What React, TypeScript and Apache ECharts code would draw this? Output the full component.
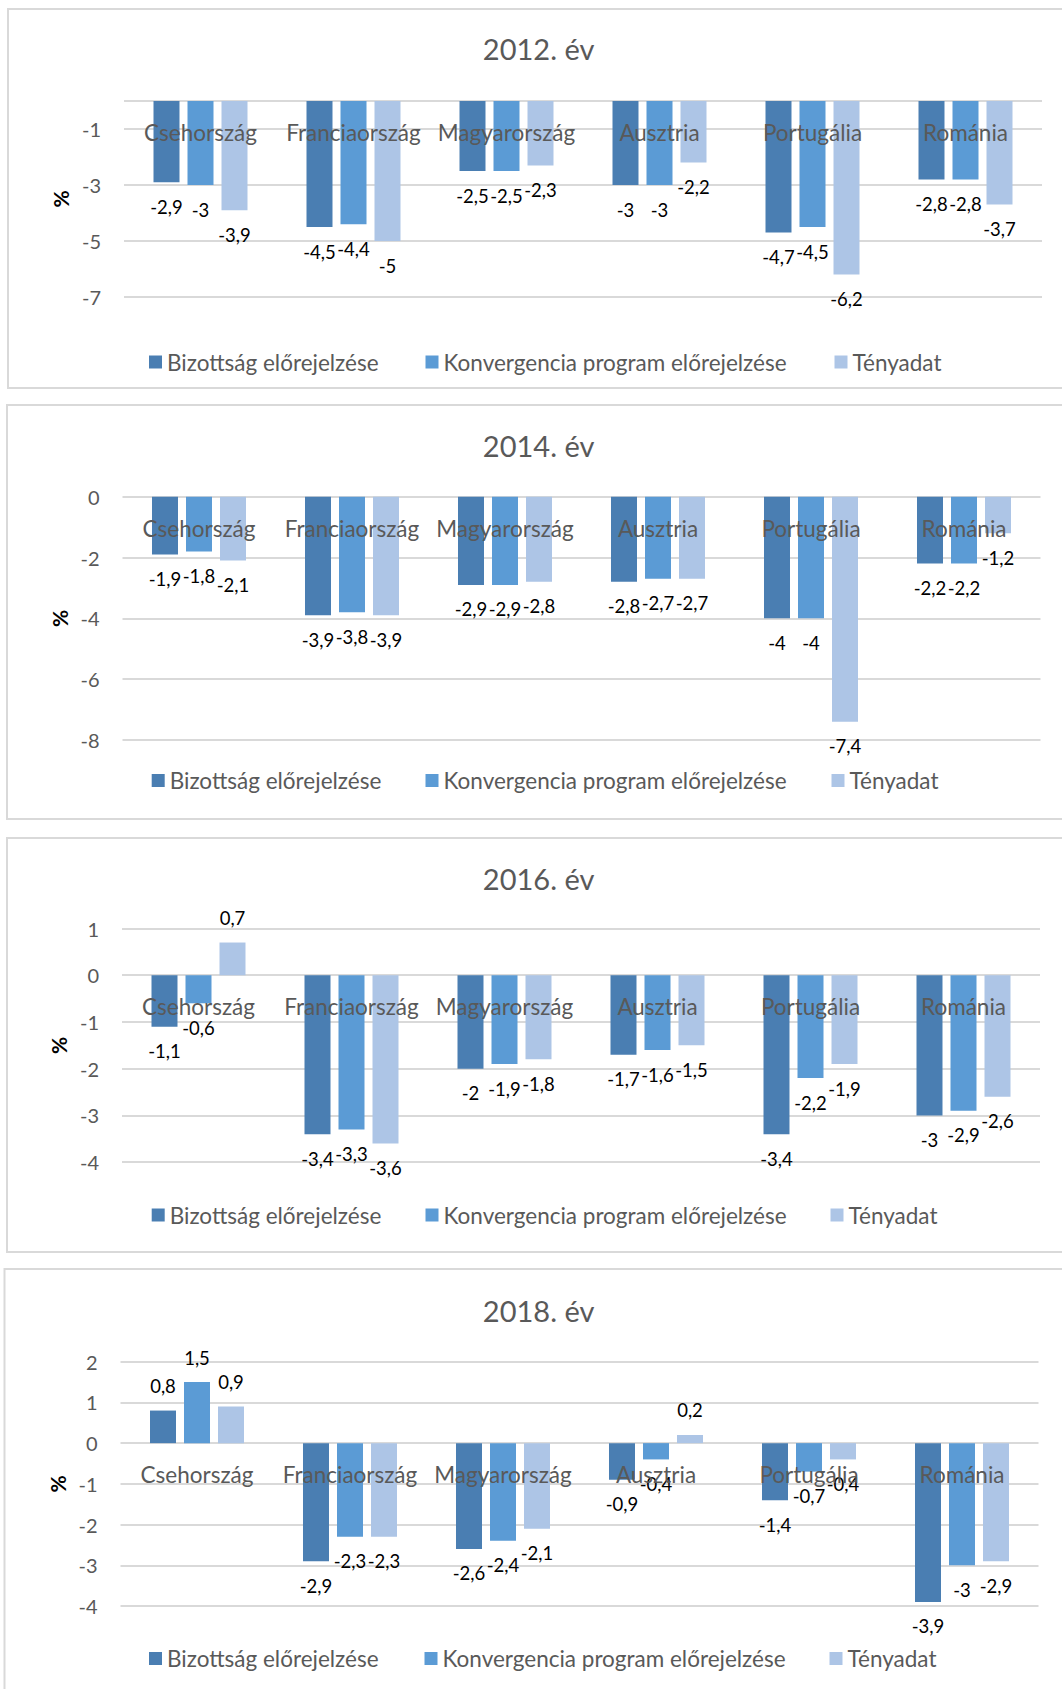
import React, { useEffect, useRef } from "react";
import * as echarts from "echarts";

const categories = ["Csehország", "Franciaország", "Magyarország", "Ausztria", "Portugália", "Románia"];
const seriesNames = ["Bizottság előrejelzése", "Konvergencia program előrejelzése", "Tényadat"];
const seriesColors = ["#4A7EB2", "#5B9BD5", "#ADC5E6"];
const panelTitles = ["2012. év", "2014. év", "2016. év", "2018. év"];

// 2012
const bizottsag2012 = [-2.9, -4.5, -2.5, -3, -4.7, -2.8];
const konvergencia2012 = [-3, -4.4, -2.5, -3, -4.5, -2.8];
const tenyadat2012 = [-3.9, -5, -2.3, -2.2, -6.2, -3.7];
// 2014
const bizottsag2014 = [-1.9, -3.9, -2.9, -2.8, -4, -2.2];
const konvergencia2014 = [-1.8, -3.8, -2.9, -2.7, -4, -2.2];
const tenyadat2014 = [-2.1, -3.9, -2.8, -2.7, -7.4, -1.2];
// 2016
const bizottsag2016 = [-1.1, -3.4, -2, -1.7, -3.4, -3];
const konvergencia2016 = [-0.6, -3.3, -1.9, -1.6, -2.2, -2.9];
const tenyadat2016 = [0.7, -3.6, -1.8, -1.5, -1.9, -2.6];
// 2018
const bizottsag2018 = [0.8, -2.9, -2.6, -0.9, -1.4, -3.9];
const konvergencia2018 = [1.5, -2.3, -2.4, -0.4, -0.7, -3];
const tenyadat2018 = [0.9, -2.3, -2.1, 0.2, -0.4, -2.9];

const panelValues = [
  [bizottsag2012, konvergencia2012, tenyadat2012],
  [bizottsag2014, konvergencia2014, tenyadat2014],
  [bizottsag2016, konvergencia2016, tenyadat2016],
  [bizottsag2018, konvergencia2018, tenyadat2018],
];

// y-axis scales
const yMins = [-7, -8, -4, -4];
const yMaxs = [0, 0, 1, 2];
const yTickLabels2012 = [-1, -3, -5, -7];
const yGridValues2012 = [0, -1, -3, -5, -7];
const yTickLabels2014 = [0, -2, -4, -6, -8];
const yTickLabels2016 = [1, 0, -1, -2, -3, -4];
const yTickLabels2018 = [2, 1, 0, -1, -2, -3, -4];
const yLabelValues = [yTickLabels2012, yTickLabels2014, yTickLabels2016, yTickLabels2018];
const yGridValues = [yGridValues2012, yTickLabels2014, yTickLabels2016, yTickLabels2018];

// layout (page pixel coordinates)
const layouts = [
  { border: [8, 9, 1070, 379], grid: [124, 101, 918, 196], titleY: 48.5, legendX: [149, 425.5, 834.5], legendY: 361.5 },
  { border: [7, 405, 1070, 414], grid: [122.5, 496.7, 918, 243.3], titleY: 445, legendX: [151.7, 425.5, 831.5], legendY: 780 },
  { border: [7, 838, 1070, 414], grid: [122, 928.5, 918, 233.7], titleY: 878, legendX: [151.7, 425.5, 830.5], legendY: 1214.5 },
  { border: [4.5, 1269, 1070, 440], grid: [120.5, 1361.7, 918, 244.3], titleY: 1310, legendX: [149, 424.5, 829.5], legendY: 1658 },
];

const FONT = "Lato, 'Noto Sans', sans-serif";
const fmt = (v: number) => String(v).replace(".", ",");

export default function App() {
  const ref = useRef<HTMLDivElement>(null);
  useEffect(() => {
    if (!ref.current) return;
    const chart = echarts.init(ref.current, null, { renderer: "svg" });

    const grid = layouts.map((l) => ({ left: l.grid[0], top: l.grid[1], width: l.grid[2], height: l.grid[3] }));
    // category axis sits on the zero line of the value axis (as in the Excel original)
    const xAxis = layouts.map((l, i) => ({
      type: "category",
      gridIndex: i,
      data: categories,
      z: 5,
      position: "bottom",
      offset: -(l.grid[3] * (0 - yMins[i])) / (yMaxs[i] - yMins[i]),
      axisLine: { show: false, onZero: false },
      axisTick: { show: false },
      splitLine: { show: false },
      axisLabel: { interval: 0, margin: 20, color: "#595959", fontSize: 22.5, fontFamily: FONT },
    }));
    const yAxis = layouts.map((_, i) => ({
      type: "value",
      gridIndex: i,
      min: yMins[i],
      max: yMaxs[i],
      name: "%",
      nameLocation: "middle",
      nameRotate: 90,
      nameGap: 53,
      nameTextStyle: { color: "#000", fontWeight: "bold", fontSize: 21, fontFamily: FONT },
      axisLine: { show: false },
      axisTick: { show: false, customValues: yGridValues[i] },
      axisLabel: {
        customValues: yLabelValues[i],
        margin: 23,
        color: "#595959",
        fontSize: 20,
        fontFamily: FONT,
        formatter: (v: number) => fmt(v),
      },
      splitLine: { show: true, lineStyle: { color: "#D9D9D9", width: 2 } },
    }));

    const series: any[] = [];
    panelValues.forEach((vals, i) => {
      vals.forEach((arr, s) => {
        series.push({
          type: "bar",
          name: seriesNames[s],
          xAxisIndex: i,
          yAxisIndex: i,
          barWidth: 26,
          barGap: "30.77%",
          itemStyle: { color: seriesColors[s] },
          label: {
            show: true,
            distance: 15,
            color: "#000",
            fontSize: 18.5,
            fontFamily: FONT,
            formatter: (p: any) => fmt(p.value),
          },
          data: arr.map((v) => ({ value: v, label: { position: v < 0 ? "bottom" : "top" } })),
        });
      });
    });

    const legend: any[] = [];
    layouts.forEach((l) => {
      seriesNames.forEach((n, s) => {
        legend.push({
          data: [n],
          left: l.legendX[s],
          top: l.legendY - 11,
          padding: 0,
          itemWidth: 13,
          itemHeight: 13,
          icon: "rect",
          selectedMode: false,
          textStyle: { color: "#595959", fontSize: 22.5, fontFamily: FONT },
        });
      });
    });

    const graphic: any[] = [];
    layouts.forEach((l, i) => {
      graphic.push({
        type: "rect",
        silent: true,
        z: -10,
        shape: { x: l.border[0], y: l.border[1], width: l.border[2], height: l.border[3] },
        style: { fill: "#fff", stroke: "#D9D9D9", lineWidth: 2 },
      });
      graphic.push({
        type: "text",
        x: 538.6,
        y: l.titleY,
        silent: true,
        style: {
          text: panelTitles[i],
          fill: "#595959",
          fontSize: 29,
          fontFamily: FONT,
          align: "center",
          verticalAlign: "middle",
          textAlign: "center",
          textVerticalAlign: "middle",
        },
      });
    });

    chart.setOption({
      animation: false,
      backgroundColor: "#fff",
      textStyle: { fontFamily: FONT },
      grid,
      xAxis,
      yAxis,
      series,
      legend,
      graphic,
    });
    return () => chart.dispose();
  }, []);
  return (
    <div style={{ position: "fixed", left: 0, top: 0, width: 1062, height: 1689, overflow: "hidden", background: "#fff" }}>
      <div ref={ref} style={{ width: 1062, height: 1689 }} />
    </div>
  );
}
